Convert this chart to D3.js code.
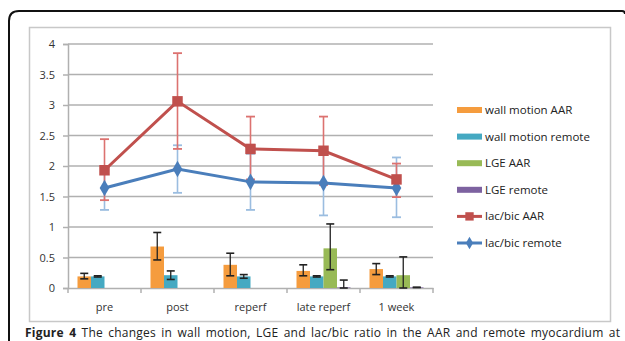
<!DOCTYPE html>
<html><head><meta charset="utf-8">
<script src="https://cdn.jsdelivr.net/npm/d3@7"></script>
<style>html,body{margin:0;padding:0;background:#fff;overflow:hidden}svg{display:block}</style>
</head><body>
<script>
const categories = ["pre", "post", "reperf", "late reperf", "1 week"];
const yTicks = [0, 0.5, 1, 1.5, 2, 2.5, 3, 3.5, 4];

// bar series (mean, +err, -err)
const wallMotionAAR      = [0.19, 0.68, 0.38, 0.28, 0.31];
const wallMotionAARUp    = [0.05, 0.23, 0.19, 0.10, 0.09];
const wallMotionAARDown  = [0.04, 0.22, 0.18, 0.08, 0.09];
const wallMotionRemote     = [0.19, 0.21, 0.19, 0.19, 0.19];
const wallMotionRemoteUp   = [0.01, 0.07, 0.03, 0.01, 0.01];
const wallMotionRemoteDown = [0.01, 0.07, 0.03, 0.01, 0.01];
const lgeAAR      = [null, null, null, 0.65, 0.21];
const lgeAARUp    = [0, 0, 0, 0.40, 0.30];
const lgeAARDown  = [0, 0, 0, 0.35, 0.21];
const lgeRemote     = [null, null, null, 0.01, 0.01];
const lgeRemoteUp   = [0, 0, 0, 0.12, 0];
const lgeRemoteDown = [0, 0, 0, 0.01, 0];

// line series
const lacBicAAR      = [1.93, 3.06, 2.28, 2.25, 1.78];
const lacBicAARUp    = [0.51, 0.79, 0.53, 0.56, 0.26];
const lacBicAARDown  = [0.49, 0.78, 0.50, 0.56, 0.29];
const lacBicRemote     = [1.64, 1.95, 1.74, 1.72, 1.64];
const lacBicRemoteUp   = [0.36, 0.39, 0.46, 0.53, 0.50];
const lacBicRemoteDown = [0.36, 0.39, 0.46, 0.53, 0.48];

const seriesNames = ["wall motion AAR", "wall motion remote", "LGE AAR", "LGE remote", "lac/bic AAR", "lac/bic remote"];
const seriesColors = ["#F59C3E", "#45A9C2", "#98BA56", "#7D62A0", "#C0504D", "#4A7EBB"];

const W = 625, H = 341;
const svg = d3.select("body").append("svg").attr("width", W).attr("height", H);
const font = "'Open Sans', 'Noto Sans', sans-serif";

// outer frame
svg.append("path")
  .attr("d", "M9,345 L9,21 Q9,11 19,11 L622,11 Q625,11 625,14")
  .attr("fill", "none").attr("stroke", "#111").attr("stroke-width", 2);

// chart box
svg.append("rect").attr("x", 29.5).attr("y", 27.5).attr("width", 581).attr("height", 294)
  .attr("fill", "#fff").attr("stroke", "#c8c8c8").attr("stroke-width", 1.5);

const x = d3.scaleBand().domain(categories).range([68, 433]).paddingInner(0).paddingOuter(0);
const y = d3.scaleLinear().domain([0, 4]).range([288, 44]);
const barKeys = [0, 1, 2, 3];
const xb = d3.scaleBand().domain(barKeys).range([9.5, x.bandwidth() - 9.5]).padding(0);

// gridlines
svg.append("g").selectAll("line").data(yTicks.filter(t => t > 0)).join("line")
  .attr("x1", 68).attr("x2", 433).attr("y1", d => y(d)).attr("y2", d => y(d))
  .attr("stroke", "#b0b0b0").attr("stroke-width", 1.5);

// y axis
const yAxis = svg.append("g").attr("transform", "translate(68,0)")
  .call(d3.axisLeft(y).tickValues(yTicks).tickSize(5).tickPadding(8).tickFormat(d => String(d)));
yAxis.select(".domain").attr("stroke", "#b0b0b0").attr("stroke-width", 1.5);
yAxis.selectAll(".tick line").attr("stroke", "#b0b0b0").attr("stroke-width", 1.5);
yAxis.selectAll("text").attr("font-family", font).attr("font-size", 11).attr("fill", "#333");

// x axis
const xAxis = svg.append("g").attr("transform", "translate(0,288)")
  .call(d3.axisBottom(x).tickSize(0).tickPadding(15));
xAxis.select(".domain").attr("stroke", "#b0b0b0").attr("stroke-width", 1.5);
xAxis.selectAll("text").attr("font-family", font).attr("font-size", 11).attr("fill", "#333");
const bounds = [68].concat(categories.map(c => x(c) + x.bandwidth()));
svg.append("g").selectAll("line").data(bounds).join("line")
  .attr("x1", d => d).attr("x2", d => d).attr("y1", 288).attr("y2", 293)
  .attr("stroke", "#b0b0b0").attr("stroke-width", 1.5);

// bars
const barData = [
  [wallMotionAAR, wallMotionAARUp, wallMotionAARDown],
  [wallMotionRemote, wallMotionRemoteUp, wallMotionRemoteDown],
  [lgeAAR, lgeAARUp, lgeAARDown],
  [lgeRemote, lgeRemoteUp, lgeRemoteDown]
];
const barsG = svg.append("g");
const errG = svg.append("g");
barData.forEach((s, k) => {
  const items = categories.map((c, i) => ({c, v: s[0][i], up: s[1][i], dn: s[2][i]})).filter(d => d.v !== null);
  barsG.selectAll(null).data(items).join("rect")
    .attr("x", d => x(d.c) + xb(k)).attr("width", xb.bandwidth())
    .attr("y", d => y(d.v)).attr("height", d => y(0) - y(d.v))
    .attr("fill", seriesColors[k]);
  items.forEach(d => {
    const cx = x(d.c) + xb(k) + xb.bandwidth() / 2;
    const y1 = y(d.v + d.up), y2 = y(Math.max(0, d.v - d.dn));
    errG.append("line").attr("x1", cx).attr("x2", cx).attr("y1", y1).attr("y2", y2).attr("stroke", "#222").attr("stroke-width", 1.3);
    [y1, y2].forEach(yy => errG.append("line").attr("x1", cx - 4).attr("x2", cx + 4).attr("y1", yy).attr("y2", yy).attr("stroke", "#222").attr("stroke-width", 1.6));
  });
});

// lines
const cxOf = c => x(c) + x.bandwidth() / 2;
const lineData = [
  {vals: lacBicRemote, up: lacBicRemoteUp, dn: lacBicRemoteDown, color: seriesColors[5], err: "#9bbde0", marker: "diamond"},
  {vals: lacBicAAR, up: lacBicAARUp, dn: lacBicAARDown, color: seriesColors[4], err: "#dc7270", marker: "square"}
];
const lineErrG = svg.append("g");
const lineG = svg.append("g");
lineData.forEach(s => {
  categories.forEach((c, i) => {
    const cx = cxOf(c), y1 = y(s.vals[i] + s.up[i]), y2 = y(s.vals[i] - s.dn[i]);
    lineErrG.append("line").attr("x1", cx).attr("x2", cx).attr("y1", y1).attr("y2", y2).attr("stroke", s.err).attr("stroke-width", 1.6);
    [y1, y2].forEach(yy => lineErrG.append("line").attr("x1", cx - 4.5).attr("x2", cx + 4.5).attr("y1", yy).attr("y2", yy).attr("stroke", s.err).attr("stroke-width", 1.8));
  });
});
lineData.forEach(s => {
  const line = d3.line().x((d, i) => cxOf(categories[i])).y(d => y(d));
  lineG.append("path").attr("d", line(s.vals)).attr("fill", "none").attr("stroke", s.color).attr("stroke-width", 3);
  const sym = d3.symbol().type(s.marker === "square" ? d3.symbolSquare : d3.symbolDiamond).size(s.marker === "square" ? 110 : 80);
  lineG.selectAll(null).data(s.vals).join("path")
    .attr("transform", (d, i) => `translate(${cxOf(categories[i])},${y(d)})`)
    .attr("d", sym).attr("fill", s.color);
});

// legend
const lg = svg.append("g").attr("transform", "translate(457,110)");
seriesNames.forEach((n, i) => {
  const g = lg.append("g").attr("transform", `translate(0,${i * 26.6})`);
  if (i < 4) {
    g.append("rect").attr("x", 0).attr("y", -3).attr("width", 25).attr("height", 6).attr("fill", seriesColors[i]);
  } else {
    g.append("line").attr("x1", 0).attr("x2", 25).attr("y1", 0).attr("y2", 0).attr("stroke", seriesColors[i]).attr("stroke-width", 3);
    const sym = d3.symbol().type(i === 4 ? d3.symbolSquare : d3.symbolDiamond).size(i === 4 ? 70 : 45);
    g.append("path").attr("transform", "translate(12.5,0)").attr("d", sym).attr("fill", seriesColors[i]);
  }
  g.append("text").attr("x", 28).attr("y", 0).attr("dy", "0.35em")
    .attr("font-family", font).attr("font-size", 11.5).attr("fill", "#222").text(n);
});

// caption
const cap = svg.append("text").attr("x", 25).attr("y", 337).attr("font-family", font).attr("font-size", 12).attr("fill", "#222")
  .attr("textLength", 595).attr("lengthAdjust", "spacing").attr("word-spacing", 2);
cap.append("tspan").attr("font-weight", "bold").text("Figure 4 ");
cap.append("tspan").text("The changes in wall motion, LGE and lac/bic ratio in the AAR and remote myocardium at");
</script>
</body></html>
